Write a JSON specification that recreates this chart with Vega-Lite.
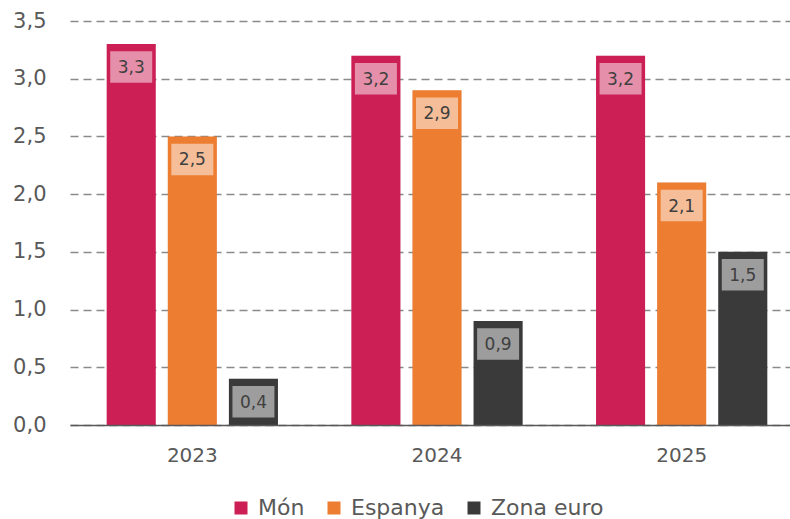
{
  "$schema": "https://vega.github.io/schema/vega-lite/v6.json",
  "width": 720,
  "height": 404,
  "autosize": {"type": "none"},
  "padding": {"left": 70, "top": 21, "right": 0, "bottom": 94},
  "config": {
    "locale": {"number": {"decimal": ",", "thousands": ".", "grouping": [3], "currency": ["", " €"]}},
    "view": {"stroke": null},
    "font": "DejaVu Sans"
  },
  "data": {
    "values": [
      {"year": "2023", "region": "Món", "value": 3.3},
      {"year": "2023", "region": "Espanya", "value": 2.5},
      {"year": "2023", "region": "Zona euro", "value": 0.4},
      {"year": "2024", "region": "Món", "value": 3.2},
      {"year": "2024", "region": "Espanya", "value": 2.9},
      {"year": "2024", "region": "Zona euro", "value": 0.9},
      {"year": "2025", "region": "Món", "value": 3.2},
      {"year": "2025", "region": "Espanya", "value": 2.1},
      {"year": "2025", "region": "Zona euro", "value": 1.5}
    ]
  },
  "encoding": {
    "x": {
      "field": "year", "type": "nominal", "title": null,
      "scale": {"range": [0, 734], "paddingInner": 0.3, "paddingOuter": 0.15},
      "axis": {"domain": true, "domainColor": "#595959", "domainWidth": 1.5, "ticks": false, "labelFontSize": 20, "labelColor": "#595959", "labelPadding": 20, "labelAngle": 0, "zindex": 1}
    },
    "xOffset": {
      "field": "region", "type": "nominal", "sort": ["Món", "Espanya", "Zona euro"],
      "scale": {"paddingInner": 0.197, "paddingOuter": 0}
    },
    "y": {
      "field": "value", "type": "quantitative", "title": null,
      "scale": {"domain": [0, 3.5], "nice": false},
      "axis": {"values": [0, 0.5, 1, 1.5, 2, 2.5, 3, 3.5], "format": ".1f", "domain": false, "ticks": false, "labelFontSize": 21, "labelColor": "#595959", "labelPadding": 24, "grid": true, "gridDash": [8, 5], "gridColor": "#8a8a8a", "gridWidth": 1.5}
    }
  },
  "layer": [
    {
      "mark": {"type": "bar", "color": "#000000", "opacity": 0.08, "xOffset": 4},
      "encoding": {}
    },
    {
      "mark": {"type": "bar"},
      "encoding": {
        "color": {
          "field": "region", "type": "nominal", "sort": ["Món", "Espanya", "Zona euro"],
          "scale": {"domain": ["Món", "Espanya", "Zona euro"], "range": ["#CC1F55", "#ED7D31", "#3A3A3A"]},
          "legend": {"orient": "none", "legendX": 160, "legendY": 476, "direction": "horizontal", "title": null, "symbolType": "square", "symbolSize": 169, "symbolStrokeWidth": 0, "labelFontSize": 22, "labelColor": "#595959", "columnPadding": 18, "labelOffset": 6}
        }
      }
    },
    {
      "mark": {"type": "point", "shape": "M-1,-0.75L1,-0.75L1,0.75L-1,0.75Z", "size": 1764, "filled": true, "color": "#ffffff", "opacity": 0.5, "yOffset": 23, "strokeWidth": 0},
      "encoding": {}
    },
    {
      "mark": {"type": "text", "yOffset": 24, "fontSize": 17, "color": "#404040", "baseline": "middle"},
      "encoding": {"text": {"field": "value", "type": "quantitative", "format": ".1f"}}
    }
  ]
}
